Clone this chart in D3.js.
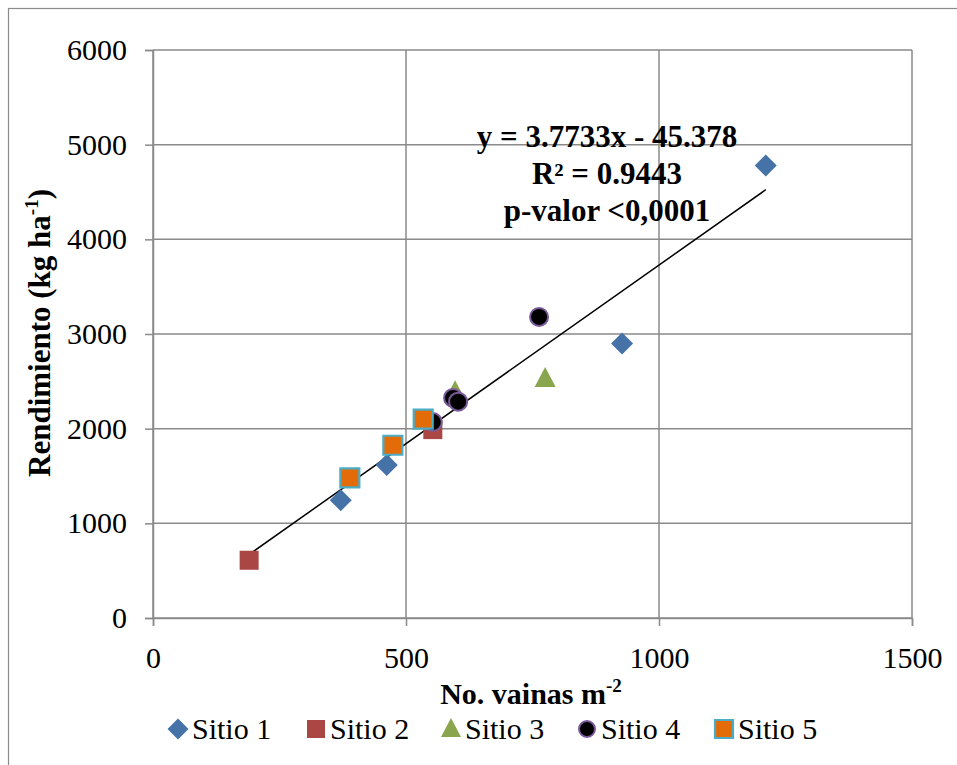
<!DOCTYPE html>
<html>
<head>
<meta charset="utf-8">
<script src="https://cdn.jsdelivr.net/npm/d3@7"></script>
<style>
  html, body { margin: 0; padding: 0; background: #fff; }
</style>
</head>
<body>
<svg id="chart" width="957" height="765"></svg>
<script>
// Pods per square metre vs. yield, by site
const sitio1 = [[371, 1245], [462, 1615], [927, 2900], [1211, 4780]];
const sitio2 = [[190, 610], [553, 1990]];
const sitio3 = [[597, 2390], [775, 2530]];
const sitio4 = [[763, 3180], [593, 2325], [603, 2285], [553, 2070]];
const sitio5 = [[389, 1480], [474, 1825], [534, 2100]];

const seriesNames = ["Sitio 1", "Sitio 2", "Sitio 3", "Sitio 4", "Sitio 5"];
const xTicks = [0, 500, 1000, 1500];
const yTicks = [0, 1000, 2000, 3000, 4000, 5000, 6000];

// Fitted linear trend: y = 3.7733x - 45.378
const slope = 3.7733, intercept = -45.378;
const trendRange = [190, 1211];
const fitLabels = ["y = 3.7733x - 45.378", "R² = 0.9443", "p-valor <0,0001"];

const SERIF = '"Liberation Serif", "Times New Roman", Times, serif';

const svg = d3.select("#chart").attr("font-family", SERIF);
const plot = { left: 153, right: 912, top: 50, bottom: 618 };

const x = d3.scaleLinear().domain([0, 1500]).range([plot.left, plot.right]);
const y = d3.scaleLinear().domain([0, 6000]).range([plot.bottom, plot.top]);

// outer frame
svg.append("rect").attr("x", 8.5).attr("y", 8.5).attr("width", 970).attr("height", 780)
  .attr("fill", "none").attr("stroke", "#8c8c8c").attr("stroke-width", 1.2);

const gridColor = "#8a8a8a";

// gridlines
svg.append("g").selectAll("line").data(yTicks).join("line")
  .attr("x1", plot.left).attr("x2", plot.right)
  .attr("y1", d => y(d)).attr("y2", d => y(d))
  .attr("stroke", gridColor).attr("stroke-width", 1.5);
svg.append("g").selectAll("line").data(xTicks).join("line")
  .attr("x1", d => x(d)).attr("x2", d => x(d))
  .attr("y1", plot.top).attr("y2", plot.bottom)
  .attr("stroke", gridColor).attr("stroke-width", 1.5);

// axes
const fmt = d3.format("d");
const xAxis = svg.append("g").attr("transform", `translate(0,${plot.bottom})`)
  .call(d3.axisBottom(x).tickValues(xTicks).tickFormat(fmt).tickSize(8).tickPadding(14));
const yAxis = svg.append("g").attr("transform", `translate(${plot.left},0)`)
  .call(d3.axisLeft(y).tickValues(yTicks).tickFormat(fmt).tickSize(8).tickPadding(18));
[xAxis, yAxis].forEach(g => {
  g.attr("font-family", SERIF).attr("font-size", 30);
  g.select(".domain").attr("stroke", gridColor).attr("stroke-width", 1.5);
  g.selectAll(".tick line").attr("stroke", gridColor).attr("stroke-width", 1.5);
  g.selectAll(".tick text").attr("fill", "#000");
});
xAxis.selectAll(".tick text").attr("dy", null).attr("y", 50);

// trend line
svg.append("line")
  .attr("x1", x(trendRange[0])).attr("y1", y(slope * trendRange[0] + intercept))
  .attr("x2", x(trendRange[1])).attr("y2", y(slope * trendRange[1] + intercept))
  .attr("stroke", "#000").attr("stroke-width", 1.5);

// markers
const styles = [
  { data: sitio1, kind: "diamond", fill: "#4572a7", stroke: "none", sw: 0 },
  { data: sitio2, kind: "square", fill: "#aa4643", stroke: "none", sw: 0 },
  { data: sitio3, kind: "triangle", fill: "#89a54e", stroke: "none", sw: 0 },
  { data: sitio4, kind: "circle", fill: "#000", stroke: "#7a5a9a", sw: 2 },
  { data: sitio5, kind: "square", fill: "#e36c09", stroke: "#4bacc6", sw: 2.2 }
];

function markerPath(kind, r) {
  switch (kind) {
    case "diamond": return `M0,${-r}L${r},0L0,${r}L${-r},0Z`;
    case "square": return `M${-r},${-r}H${r}V${r}H${-r}Z`;
    case "triangle": return `M0,${-r * 1.1}L${r},${r * 0.8}H${-r}Z`;
    case "circle": return d3.symbol(d3.symbolCircle, Math.PI * r * r)();
  }
}
const plotRadius = { diamond: 11, square: 9.5, triangle: 10.5, circle: 9 };
const legendRadius = { diamond: 10.5, square: 9, triangle: 10, circle: 8 };

styles.forEach(s => {
  svg.append("g").selectAll("path").data(s.data).join("path")
    .attr("d", markerPath(s.kind, plotRadius[s.kind]))
    .attr("transform", d => `translate(${x(d[0])},${y(d[1])})`)
    .attr("fill", s.fill).attr("stroke", s.stroke).attr("stroke-width", s.sw);
});

// fit annotation
const ann = svg.append("text").attr("text-anchor", "middle")
  .attr("font-family", SERIF).attr("font-weight", "bold").attr("font-size", 31).attr("fill", "#000");
fitLabels.forEach((t, i) => {
  ann.append("tspan").attr("x", 607).attr("y", 147 + i * 37).text(t);
});

// axis titles
const yTitle = svg.append("text")
  .attr("transform", "translate(50,333) rotate(-90)")
  .attr("text-anchor", "middle").attr("font-family", SERIF)
  .attr("font-weight", "bold").attr("font-size", 31);
yTitle.append("tspan").text("Rendimiento (kg ha");
yTitle.append("tspan").attr("dy", -12).attr("font-size", 19).text("-1");
yTitle.append("tspan").attr("dy", 12).text(")");

const xTitle = svg.append("text").attr("x", 531).attr("y", 704)
  .attr("text-anchor", "middle").attr("font-family", SERIF)
  .attr("font-weight", "bold").attr("font-size", 30);
xTitle.append("tspan").text("No. vainas m");
xTitle.append("tspan").attr("dy", -12).attr("font-size", 19).text("-2");

// legend
const legendX = [178, 316, 451, 587, 724];
const legendY = 729;
seriesNames.forEach((name, i) => {
  const s = styles[i];
  const cx = legendX[i];
  svg.append("path")
    .attr("d", markerPath(s.kind, legendRadius[s.kind]))
    .attr("transform", `translate(${cx},${legendY})`)
    .attr("fill", s.fill).attr("stroke", s.stroke).attr("stroke-width", s.sw);
  svg.append("text").attr("x", cx + 14).attr("y", legendY + 10)
    .attr("font-family", SERIF).attr("font-size", 30).attr("fill", "#000").text(name);
});
</script>
</body>
</html>
